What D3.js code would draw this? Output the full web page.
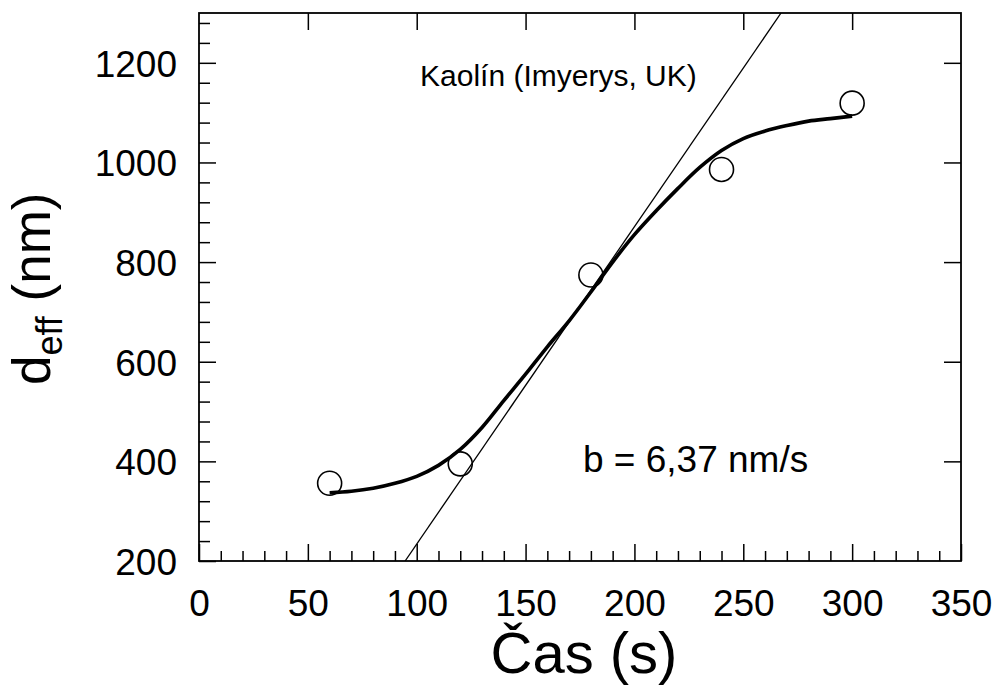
<!DOCTYPE html>
<html>
<head>
<meta charset="utf-8">
<script src="https://cdn.jsdelivr.net/npm/d3@7"></script>
<style>
  html, body { margin: 0; padding: 0; background: #fff; }
  svg { display: block; }
  text { font-family: "Liberation Sans", Arial, sans-serif; fill: #000; }
</style>
</head>
<body>
<svg id="chart" width="995" height="697"></svg>
<script>
// ---- data ----
const pointTimes = [60, 120, 180, 240, 300];
const pointValues = [356, 395, 774, 986, 1119];

const curveTimes = [60, 70, 80, 90, 100, 110, 120, 130, 140, 150, 160, 170, 180, 190, 200, 210, 220, 230, 240, 250, 260, 270, 280, 290, 300];
const curveValues = [337, 340, 346, 356, 370, 392, 424, 468, 522, 575, 630, 682, 740, 800, 855, 903, 948, 990, 1024, 1048, 1063, 1074, 1083, 1088, 1093];

const lineSlope = 6.37;
const lineIntercept = -403;

const xTicks = [0, 50, 100, 150, 200, 250, 300, 350];
const yTicks = [200, 400, 600, 800, 1000, 1200];
const xDomain = [0, 350];
const yDomain = [200, 1300];

const annotation = "Kaolín (Imyerys, UK)";
const slopeLabel = "b = 6,37 nm/s";
const xTitle = "Čas (s)";

// ---- layout ----
const svg = d3.select("#chart");
const L = 199, R = 961, T = 13, B = 561;

const x = d3.scaleLinear().domain(xDomain).range([L, R]);
const y = d3.scaleLinear().domain(yDomain).range([B, T]);

const tickFont = 37;

// minor ticks bottom
const xMinor = d3.range(xDomain[0], xDomain[1] + 1, 10).filter(v => v % 50 !== 0);
svg.append("g").attr("transform", `translate(0,${B})`)
  .call(d3.axisBottom(x).tickValues(xMinor).tickSize(-10).tickFormat(""))
  .call(g => g.select(".domain").remove())
  .call(g => g.selectAll("line").attr("stroke", "#000").attr("stroke-width", 1.5));

// major ticks bottom with labels
svg.append("g").attr("transform", `translate(0,${B})`)
  .call(d3.axisBottom(x).tickValues(xTicks).tickSize(-17).tickPadding(0).tickFormat(d3.format("d")))
  .call(g => g.select(".domain").remove())
  .call(g => g.selectAll("line").attr("stroke", "#000").attr("stroke-width", 1.5))
  .call(g => g.selectAll("text").attr("y", 55).attr("dy", null)
      .style("font-size", tickFont + "px").style("font-family", '"Liberation Sans", Arial, sans-serif').attr("fill", "#000"));

// top ticks
svg.append("g").attr("transform", `translate(0,${T})`)
  .call(d3.axisTop(x).tickValues(xTicks.filter(v => v > xDomain[0] && v < xDomain[1])).tickSize(-17).tickFormat(""))
  .call(g => g.select(".domain").remove())
  .call(g => g.selectAll("line").attr("stroke", "#000").attr("stroke-width", 1.5));

// minor ticks left
const yMinor = d3.range(yDomain[0], yDomain[1] + 1, 40).filter(v => v % 200 !== 0);
svg.append("g").attr("transform", `translate(${L},0)`)
  .call(d3.axisLeft(y).tickValues(yMinor).tickSize(-11).tickFormat(""))
  .call(g => g.select(".domain").remove())
  .call(g => g.selectAll("line").attr("stroke", "#000").attr("stroke-width", 1.5));

// major ticks left with labels
svg.append("g").attr("transform", `translate(${L},0)`)
  .call(d3.axisLeft(y).tickValues(yTicks).tickSize(-17).tickPadding(0).tickFormat(d3.format("d")))
  .call(g => g.select(".domain").remove())
  .call(g => g.selectAll("line").attr("stroke", "#000").attr("stroke-width", 1.5))
  .call(g => g.selectAll("text").attr("x", -22).attr("dy", "0.36em")
      .style("font-size", tickFont + "px").style("font-family", '"Liberation Sans", Arial, sans-serif').attr("fill", "#000"));

// right ticks
svg.append("g").attr("transform", `translate(${R},0)`)
  .call(d3.axisRight(y).tickValues(yTicks.filter(v => v > yDomain[0])).tickSize(-17).tickFormat(""))
  .call(g => g.select(".domain").remove())
  .call(g => g.selectAll("line").attr("stroke", "#000").attr("stroke-width", 1.5));

// frame
svg.append("rect").attr("x", L).attr("y", T).attr("width", R - L).attr("height", B - T)
  .attr("fill", "none").attr("stroke", "#000").attr("stroke-width", 1.8);

// clip
svg.append("clipPath").attr("id", "clip").append("rect")
  .attr("x", L).attr("y", T).attr("width", R - L).attr("height", B - T);

// straight fit line
const lineY = yDomain;
const lineX = lineY.map(v => (v - lineIntercept) / lineSlope);
svg.append("line")
  .attr("clip-path", "url(#clip)")
  .attr("x1", x(lineX[0])).attr("y1", y(lineY[0]))
  .attr("x2", x(lineX[1])).attr("y2", y(lineY[1]))
  .attr("stroke", "#000").attr("stroke-width", 1.3);

// smooth curve
const curveData = curveTimes.map((t, i) => [t, curveValues[i]]);
svg.append("path")
  .datum(curveData)
  .attr("d", d3.line().x(d => x(d[0])).y(d => y(d[1])).curve(d3.curveCatmullRom))
  .attr("fill", "none").attr("stroke", "#000").attr("stroke-width", 3.6)
  .attr("stroke-linecap", "butt");

// points
svg.append("g").selectAll("circle")
  .data(pointTimes.map((t, i) => [t, pointValues[i]]))
  .join("circle")
  .attr("cx", d => x(d[0])).attr("cy", d => y(d[1])).attr("r", 12)
  .attr("fill", "none").attr("stroke", "#000").attr("stroke-width", 1.6);

// annotations
svg.append("text").attr("x", 420).attr("y", 86)
  .style("font-size", "30px").text(annotation);

svg.append("text").attr("x", 583).attr("y", 472)
  .style("font-size", "37px").text(slopeLabel);

// x title
svg.append("text").attr("x", 584).attr("y", 673)
  .attr("text-anchor", "middle").style("font-size", "58px").text(xTitle);

// y title
const yt = svg.append("text")
  .attr("transform", `translate(50,385) rotate(-90)`)
  .attr("text-anchor", "start").style("font-size", "53px");
yt.append("tspan").text("d");
yt.append("tspan").attr("dy", 12).style("font-size", "36px").text("eff");
yt.append("tspan").attr("dy", -12).text(" (nm)");
</script>
</body>
</html>
